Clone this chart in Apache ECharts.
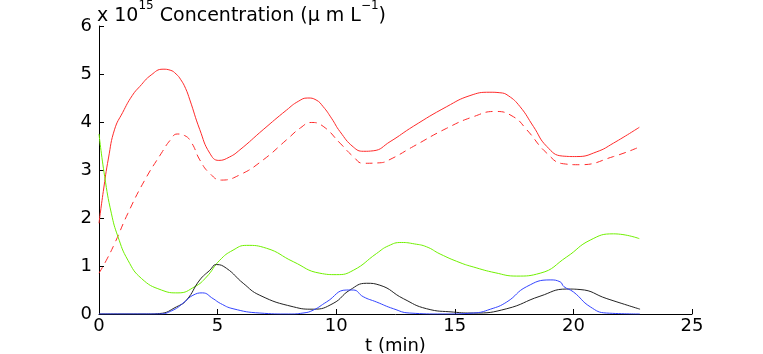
<!DOCTYPE html>
<html>
<head>
<meta charset="utf-8">
<script src="https://cdn.jsdelivr.net/npm/echarts@6/dist/echarts.min.js"></script>
<style>
  html, body { margin: 0; padding: 0; background: #fff; }
  #chart { width: 763px; height: 354px; }
</style>
</head>
<body>
<div id="chart"></div>
<script>
// values in units of 1e15 umol/L, time in minutes
var redT = [0, 0.18, 0.4, 0.66, 1.0, 1.4, 1.72, 2.2, 2.7, 3.0, 3.25, 3.45, 3.65, 3.83, 4.25, 4.67, 5.05, 5.5, 5.94, 6.92, 7.91, 8.4, 8.8, 9.15, 9.45, 9.8, 10.16, 10.72, 11.15, 11.56, 12.27, 13.25, 14.66, 15.64, 16.48, 16.9, 17.25, 17.75, 18.31, 18.88, 19.55, 20.14, 20.99, 21.69, 22.78];
var redY = [1.89, 2.55, 3.25, 3.85, 4.2, 4.55, 4.74, 4.98, 5.10, 5.08, 5.0, 4.88, 4.7, 4.46, 3.84, 3.35, 3.20, 3.27, 3.42, 3.84, 4.25, 4.43, 4.50, 4.46, 4.32, 4.08, 3.80, 3.48, 3.39, 3.40, 3.59, 3.91, 4.32, 4.55, 4.62, 4.61, 4.55, 4.32, 3.91, 3.49, 3.29, 3.28, 3.38, 3.56, 3.89];

var dashT = [0, 0.31, 0.66, 1.22, 1.93, 2.63, 3.0, 3.3, 3.6, 3.9, 4.25, 4.67, 5.16, 5.94, 6.92, 7.91, 8.5, 8.95, 9.45, 10.16, 10.72, 11.14, 11.84, 12.27, 13.25, 14.66, 15.78, 16.7, 17.47, 18.03, 18.88, 19.58, 20.28, 21.69, 22.78];
var dashY = [0.85, 1.12, 1.47, 2.10, 2.79, 3.35, 3.62, 3.75, 3.72, 3.57, 3.21, 2.93, 2.79, 2.90, 3.21, 3.63, 3.88, 3.99, 3.91, 3.56, 3.28, 3.14, 3.15, 3.22, 3.49, 3.87, 4.11, 4.22, 4.11, 3.84, 3.35, 3.13, 3.11, 3.28, 3.48];

var greenT = [0, 0.24, 0.52, 0.8, 1.22, 1.79, 2.63, 3.33, 4.04, 4.53, 5.09, 5.65, 6.22, 7.06, 8.19, 9.31, 10.02, 10.72, 11.7, 12.2, 12.75, 13.3, 13.81, 14.38, 15.22, 15.78, 16.7, 17.61, 18.6, 19.72, 20.71, 21.69, 22.78];
var greenY = [3.75, 2.86, 2.10, 1.61, 1.12, 0.74, 0.50, 0.44, 0.57, 0.77, 1.12, 1.33, 1.43, 1.37, 1.09, 0.85, 0.82, 0.91, 1.26, 1.42, 1.49, 1.46, 1.40, 1.25, 1.07, 0.98, 0.86, 0.79, 0.85, 1.19, 1.54, 1.67, 1.57];

var blackT = [0, 2.0, 2.56, 3.27, 3.69, 4.25, 4.67, 4.95, 5.38, 6.08, 6.78, 8.19, 9.03, 9.87, 10.58, 11.28, 11.84, 12.83, 13.81, 14.94, 15.78, 17.19, 18.59, 19.72, 20.28, 21.41, 22.81];
var blackY = [0, 0, 0.01, 0.15, 0.29, 0.71, 0.91, 1.03, 0.95, 0.64, 0.39, 0.15, 0.10, 0.22, 0.50, 0.64, 0.60, 0.32, 0.11, 0.04, 0.02, 0.11, 0.37, 0.52, 0.51, 0.32, 0.10];

var blueT = [0, 2.5, 3.12, 3.6, 3.96, 4.36, 4.81, 5.12, 5.65, 6.78, 8.0, 8.6, 9.03, 9.59, 10.44, 10.72, 11.14, 11.7, 12.41, 13.1, 14.5, 15.78, 16.5, 17.19, 18.03, 19.02, 19.44, 19.6, 20.0, 20.71, 21.4, 22.8];
var blueY = [0, 0, 0.08, 0.25, 0.39, 0.44, 0.32, 0.22, 0.11, 0.02, 0, 0.02, 0.08, 0.25, 0.50, 0.50, 0.36, 0.25, 0.11, 0.02, 0, 0.02, 0.10, 0.25, 0.57, 0.71, 0.67, 0.57, 0.46, 0.15, 0.02, 0];

function pairs(t, y) {
    return t.map(function (v, i) { return [v, y[i]]; });
}

var chartDom = document.getElementById('chart');
var myChart = echarts.init(chartDom);
var font = 'DejaVu Sans';

function line(name, t, y, color, dashed) {
    return {
        name: name,
        type: 'line',
        data: pairs(t, y),
        showSymbol: false,
        smooth: 0.5,
        lineStyle: { color: color, width: 1, type: dashed ? [7, 5] : 'solid' },
        animation: false
    };
}

var option = {
    animation: false,
    title: {
        left: 97,
        top: 0,
        padding: 0,
        text: '{a|x 10}{s|15}{a| Concentration (μ m L}{s|−1}{a|)}',
        textStyle: {
            fontWeight: 'normal',
            rich: {
                a: { fontFamily: font, fontSize: 19, fontWeight: 'normal', color: '#000', lineHeight: 26, verticalAlign: 'bottom' },
                s: { fontFamily: font, fontSize: 12, fontWeight: 'normal', color: '#000', lineHeight: 26, verticalAlign: 'top' }
            }
        }
    },
    grid: { left: 99, right: 71, top: 26, bottom: 40, outerBoundsMode: 'none' },
    xAxis: {
        type: 'value',
        min: 0,
        max: 25,
        interval: 5,
        name: 't (min)',
        nameLocation: 'middle',
        nameGap: 23,
        nameMoveOverlap: false,
        nameTextStyle: { fontFamily: font, fontSize: 18, color: '#000', verticalAlign: 'top' },
        axisLine: { lineStyle: { color: '#000', width: 1 } },
        axisTick: { inside: true, length: 5, lineStyle: { color: '#000' } },
        axisLabel: { fontFamily: font, fontSize: 18, color: '#000', margin: 3 },
        splitLine: { show: false }
    },
    yAxis: {
        type: 'value',
        min: 0,
        max: 6,
        interval: 1,
        axisLine: { show: true, lineStyle: { color: '#000', width: 1 } },
        axisTick: { show: true, inside: true, length: 5, lineStyle: { color: '#000' } },
        axisLabel: { fontFamily: font, fontSize: 18, color: '#000', margin: 7 },
        splitLine: { show: false }
    },
    series: [
        line('red', redT, redY, '#ff2a2a', false),
        line('red dashed', dashT, dashY, '#ff2a2a', true),
        line('green', greenT, greenY, '#70f000', false),
        line('black', blackT, blackY, '#222222', false),
        line('blue', blueT, blueY, '#3344ff', false)
    ]
};

option && myChart.setOption(option);
</script>
</body>
</html>
